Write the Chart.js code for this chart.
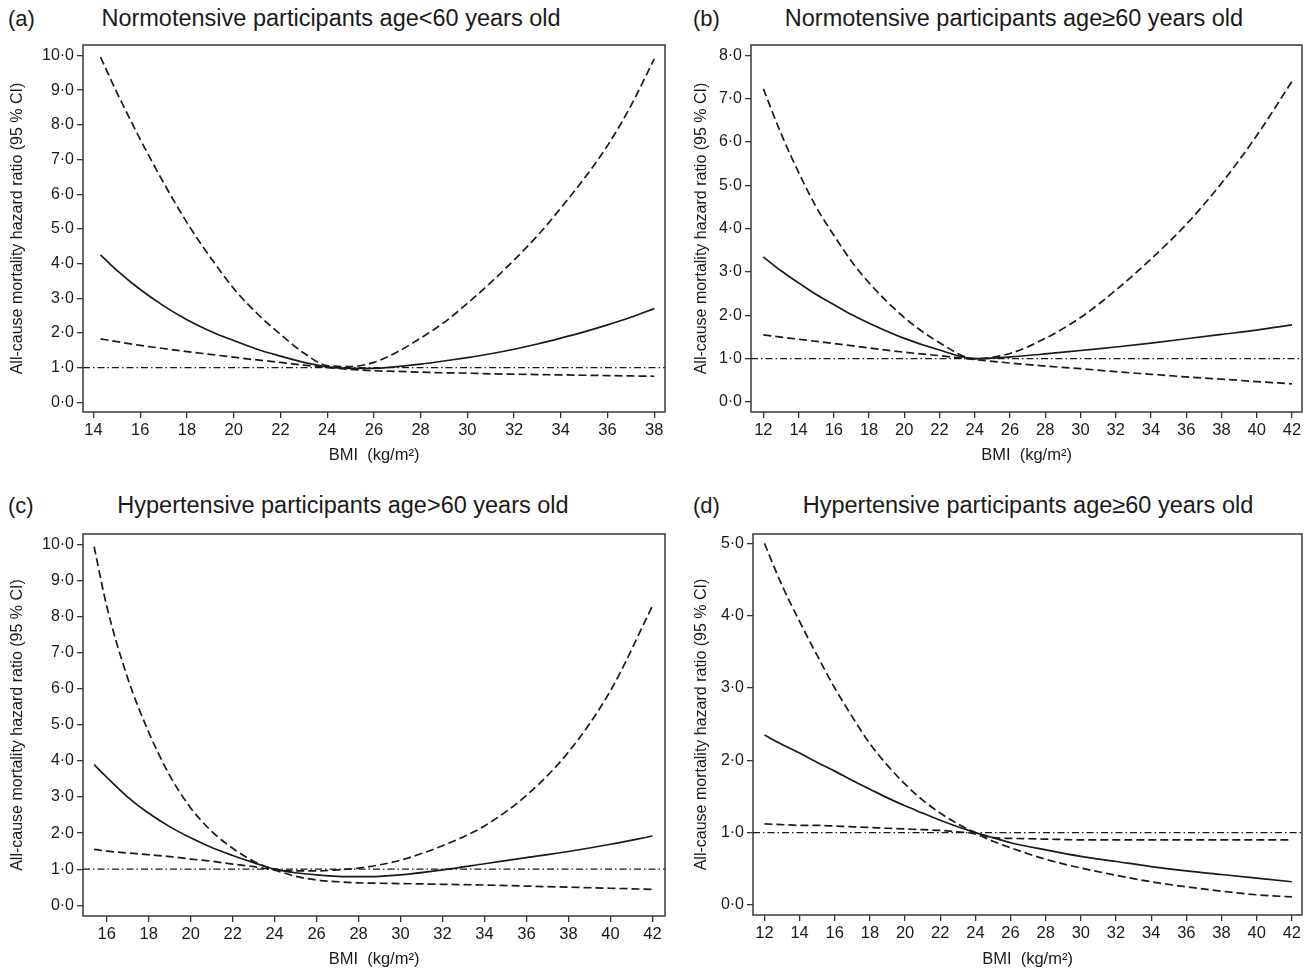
<!DOCTYPE html>
<html>
<head>
<meta charset="utf-8">
<script src="https://cdn.jsdelivr.net/npm/chart.js@4.4.1/dist/chart.umd.min.js"></script>
<style>
  body { margin: 0; background: #fff; width: 1311px; height: 973px; position: relative; overflow: hidden;
         font-family: "Liberation Sans", Arial, sans-serif; color: #1a1a1a; }
  .panel { position: absolute; }
  .lab, .ttl { position: absolute; font-size: 23.5px; line-height: 28px; white-space: nowrap; }
  .lab { font-size: 22px; }
  .ttl { transform: translateX(-50%); }
</style>
</head>
<body>

<div class="lab" style="left:8px;top:5px">(a)</div>
<div class="ttl" style="left:331px;top:4px">Normotensive participants age&lt;60 years old</div>
<div class="lab" style="left:693px;top:5px">(b)</div>
<div class="ttl" style="left:1014px;top:4px">Normotensive participants age≥60 years old</div>
<div class="lab" style="left:8px;top:492px">(c)</div>
<div class="ttl" style="left:343px;top:491px">Hypertensive participants age&gt;60 years old</div>
<div class="lab" style="left:693px;top:492px">(d)</div>
<div class="ttl" style="left:1028px;top:491px">Hypertensive participants age≥60 years old</div>

<div class="panel" style="left:0;top:30px;width:680px;height:439px"><canvas id="ca"></canvas></div>
<div class="panel" style="left:680px;top:30px;width:631px;height:439px"><canvas id="cb"></canvas></div>
<div class="panel" style="left:0;top:520px;width:680px;height:453px"><canvas id="cc"></canvas></div>
<div class="panel" style="left:680px;top:520px;width:631px;height:453px"><canvas id="cd"></canvas></div>

<script>
// ---- data ----
// (a) normotensive, age < 60
const bmiA = [14.3, 15, 16, 17, 18, 19, 20, 21, 22, 23, 24, 25, 26, 27, 28, 29, 30, 31, 32, 33, 34, 35, 36, 37, 38];
const hrA  = [4.25, 3.8, 3.25, 2.78, 2.38, 2.05, 1.78, 1.53, 1.33, 1.15, 1.02, 0.98, 0.98, 1.03, 1.1, 1.19, 1.29, 1.4, 1.53, 1.68, 1.85, 2.03, 2.23, 2.45, 2.7];
const hiA  = [9.95, 8.93, 7.58, 6.33, 5.18, 4.18, 3.28, 2.56, 1.96, 1.42, 1.06, 1.03, 1.15, 1.45, 1.85, 2.3, 2.85, 3.45, 4.1, 4.8, 5.6, 6.45, 7.4, 8.55, 9.9];
const loA  = [1.83, 1.75, 1.64, 1.55, 1.46, 1.38, 1.3, 1.22, 1.15, 1.07, 1.0, 0.95, 0.91, 0.89, 0.87, 0.85, 0.84, 0.82, 0.81, 0.8, 0.79, 0.78, 0.77, 0.76, 0.75];
const xTicksA = [14, 16, 18, 20, 22, 24, 26, 28, 30, 32, 34, 36, 38];
const yTicksA = [0, 1, 2, 3, 4, 5, 6, 7, 8, 9, 10];
const xRangeA = [13.55, 38.46];
const yRangeA = [-0.28, 10.3];

// (b) normotensive, age >= 60
const bmiB = [12, 13, 14, 15, 16, 17, 18, 20, 22, 24, 26, 28, 30, 32, 34, 36, 38, 40, 42];
const hrB  = [3.35, 3.03, 2.75, 2.48, 2.25, 2.02, 1.82, 1.47, 1.2, 1.0, 1.04, 1.11, 1.19, 1.27, 1.36, 1.46, 1.56, 1.66, 1.78];
const hiB  = [7.23, 6.2, 5.3, 4.5, 3.85, 3.25, 2.75, 1.95, 1.37, 1.0, 1.12, 1.47, 1.95, 2.58, 3.3, 4.1, 5.05, 6.15, 7.4];
const loB  = [1.55, 1.5, 1.45, 1.4, 1.35, 1.3, 1.25, 1.15, 1.07, 0.98, 0.9, 0.83, 0.77, 0.7, 0.64, 0.58, 0.53, 0.47, 0.42];
const xTicksB = [12, 14, 16, 18, 20, 22, 24, 26, 28, 30, 32, 34, 36, 38, 40, 42];
const yTicksB = [0, 1, 2, 3, 4, 5, 6, 7, 8];
const xRangeB = [11.3, 42.57];
const yRangeB = [-0.23, 8.24];

// (c) hypertensive, age > 60
const bmiC = [15.4, 16, 17, 18, 19, 20, 21, 22, 23, 24, 25, 26, 27, 28, 29, 30, 32, 34, 36, 38, 40, 42];
const hrC  = [3.9, 3.55, 3.0, 2.55, 2.18, 1.87, 1.6, 1.38, 1.18, 1.0, 0.9, 0.84, 0.8, 0.79, 0.8, 0.84, 0.98, 1.15, 1.32, 1.49, 1.69, 1.92];
const hiC  = [9.95, 8.3, 6.3, 4.8, 3.6, 2.7, 2.05, 1.58, 1.22, 1.0, 0.95, 0.95, 0.98, 1.03, 1.12, 1.25, 1.65, 2.2, 3.05, 4.25, 5.95, 8.3];
const loC  = [1.55, 1.5, 1.45, 1.4, 1.35, 1.28, 1.22, 1.14, 1.07, 0.97, 0.8, 0.7, 0.65, 0.62, 0.61, 0.6, 0.58, 0.56, 0.53, 0.5, 0.47, 0.44];
const xTicksC = [16, 18, 20, 22, 24, 26, 28, 30, 32, 34, 36, 38, 40, 42];
const yTicksC = [0, 1, 2, 3, 4, 5, 6, 7, 8, 9, 10];
const xRangeC = [14.87, 42.6];
const yRangeC = [-0.3, 10.3];

// (d) hypertensive, age >= 60
const bmiD = [12, 13, 14, 15, 16, 17, 18, 19, 20, 21, 22, 23, 24, 25, 26, 28, 30, 32, 34, 36, 38, 40, 42];
const hrD  = [2.35, 2.22, 2.1, 1.97, 1.85, 1.72, 1.6, 1.48, 1.37, 1.27, 1.17, 1.08, 1.0, 0.93, 0.86, 0.76, 0.67, 0.6, 0.53, 0.47, 0.42, 0.37, 0.32];
const hiD  = [5.0, 4.42, 3.92, 3.45, 3.0, 2.6, 2.23, 1.93, 1.67, 1.45, 1.27, 1.12, 1.0, 0.93, 0.92, 0.91, 0.9, 0.9, 0.9, 0.9, 0.9, 0.9, 0.9];
const loD  = [1.12, 1.11, 1.1, 1.1, 1.09, 1.08, 1.07, 1.06, 1.05, 1.04, 1.03, 1.01, 0.98, 0.88, 0.79, 0.63, 0.51, 0.41, 0.32, 0.25, 0.19, 0.14, 0.11];
const xTicksD = [12, 14, 16, 18, 20, 22, 24, 26, 28, 30, 32, 34, 36, 38, 40, 42];
const yTicksD = [0, 1, 2, 3, 4, 5];
const xRangeD = [11.35, 42.58];
const yRangeD = [-0.14, 5.13];

const refHR = 1.0;
const yTitle = 'All-cause mortality hazard ratio (95 % CI)';
const xTitle = 'BMI  (kg/m²)';

Chart.defaults.font.family = '"Liberation Sans", Arial, sans-serif';
Chart.defaults.color = '#1a1a1a';

// frame round the plot area
const boxPlugin = {
  id: 'box',
  afterDraw(chart) {
    const a = chart.chartArea, g = chart.ctx;
    g.save();
    g.strokeStyle = '#3a3a3a';
    g.lineWidth = 1.5;
    g.strokeRect(a.left, a.top, a.right - a.left, a.bottom - a.top);
    g.restore();
  }
};

const pts = (xs, ys) => xs.map((x, i) => ({ x: x, y: ys[i] }));
const fmt = v => v.toFixed(1).replace('.', '·');

function makePanel(id, bmi, hr, lo, hi, xRange, yRange, xTicks, yTicks, geo) {
  const line = (data, dash, w) => ({
    data: data, borderColor: '#1a1a1a', borderWidth: w, borderDash: dash,
    pointRadius: 0, cubicInterpolationMode: 'monotone', fill: false
  });
  new Chart(document.getElementById(id), {
    type: 'line',
    data: {
      datasets: [
        line(pts(xRange, [refHR, refHR]), [7, 3, 1.5, 3], 1.2),
        line(pts(bmi, hi), [8, 4], 1.7),
        line(pts(bmi, lo), [8, 4], 1.7),
        line(pts(bmi, hr), [], 1.7)
      ]
    },
    options: {
      responsive: true,
      maintainAspectRatio: false,
      animation: false,
      layout: { padding: { left: 0, top: geo.pt, right: geo.pr, bottom: 0 } },
      plugins: { legend: { display: false }, tooltip: { enabled: false } },
      scales: {
        x: {
          type: 'linear', min: xRange[0], max: xRange[1],
          afterBuildTicks: s => { s.ticks = xTicks.map(v => ({ value: v })); },
          afterFit: s => { s.height = geo.xH; },
          ticks: { font: { size: 16.5 }, padding: 3, maxRotation: 0, autoSkip: false, color: '#1a1a1a' },
          grid: { drawOnChartArea: false, drawTicks: true, tickLength: 6, color: '#333', lineWidth: 1.3 },
          border: { display: false },
          title: { display: true, text: xTitle, font: { size: 16.5 }, padding: { top: 0, bottom: 4 }, color: '#1a1a1a' }
        },
        y: {
          type: 'linear', min: yRange[0], max: yRange[1],
          afterBuildTicks: s => { s.ticks = yTicks.map(v => ({ value: v })); },
          afterFit: s => { s.width = geo.yW; },
          ticks: { font: { size: 16 }, padding: 3, callback: v => fmt(v), autoSkip: false, color: '#1a1a1a' },
          grid: { drawOnChartArea: false, drawTicks: true, tickLength: 6, color: '#333', lineWidth: 1.3 },
          border: { display: false },
          title: { display: true, text: yTitle, font: { size: 16 }, padding: { top: geo.tp, bottom: 0 }, color: '#1a1a1a' }
        }
      }
    },
    plugins: [boxPlugin]
  });
}

makePanel('ca', bmiA, hrA, loA, hiA, xRangeA, yRangeA, xTicksA, yTicksA, { pt: 15, pr: 15, yW: 83, xH: 57, tp: 8 });
makePanel('cb', bmiB, hrB, loB, hiB, xRangeB, yRangeB, xTicksB, yTicksB, { pt: 15, pr: 9, yW: 71, xH: 57, tp: 12 });
makePanel('cc', bmiC, hrC, loC, hiC, xRangeC, yRangeC, xTicksC, yTicksC, { pt: 14, pr: 15, yW: 83, xH: 57, tp: 8 });
makePanel('cd', bmiD, hrD, loD, hiD, xRangeD, yRangeD, xTicksD, yTicksD, { pt: 14, pr: 9, yW: 73, xH: 58, tp: 12 });
</script>
</body>
</html>
